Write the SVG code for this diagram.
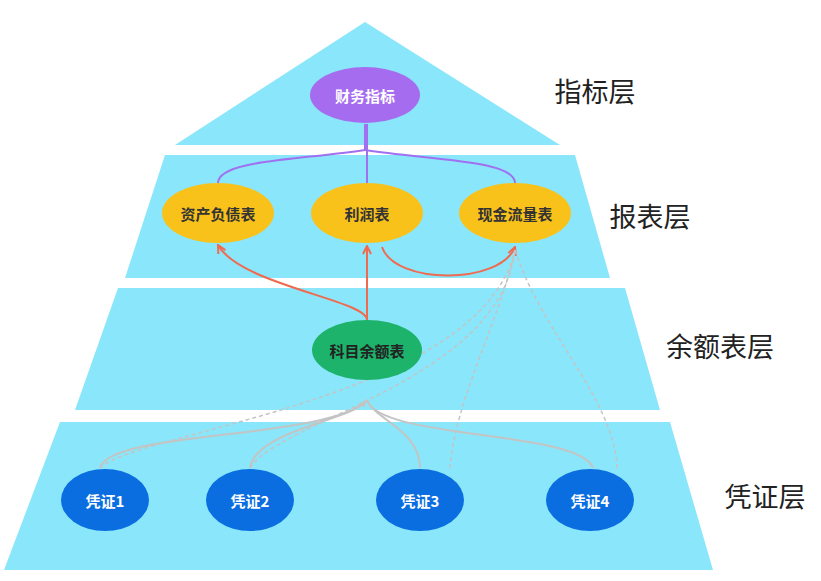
<svg xmlns="http://www.w3.org/2000/svg" width="821" height="581" viewBox="0 0 821 581">
<style>
.band{fill:#8ae6fa}
.t{font-family:"Noto Sans CJK SC",sans-serif;font-weight:bold;font-size:15px;text-anchor:middle;dominant-baseline:central}
.lbl{font-family:"Noto Sans CJK SC",sans-serif;font-size:27px;fill:#222;text-anchor:middle;dominant-baseline:central}
.p{fill:none;stroke:#a070f0;stroke-width:2}
.r{fill:none;stroke:#f06a50;stroke-width:2}
.g{fill:none;stroke:#c4c4c4;stroke-width:2}
.d{fill:none;stroke:#c4c4c4;stroke-width:1.5;stroke-dasharray:4 3}
</style>
<defs>
<marker id="ar" viewBox="0 0 10 10" refX="9" refY="5" markerWidth="5" markerHeight="5" orient="auto"><path d="M1,1 L9,5 L1,9" fill="none" stroke="#f06a50" stroke-width="2"/></marker>
<marker id="ag" viewBox="0 0 10 10" refX="9" refY="5" markerWidth="4" markerHeight="4" orient="auto"><path d="M0,1 L9,5 L0,9z" fill="#c4c4c4"/></marker>
</defs>
<rect width="821" height="581" fill="#fff"/>
<g id="bands">
<polygon class="band" points="365,22 175,145 560,145"/>
<polygon class="band" points="165,155 575,155 610,278 125,278"/>
<polygon class="band" points="118,288 625,288 660,410 75,410"/>
<polygon class="band" points="60,422 670,422 713,570 4,570"/>
</g>
<g id="connectors">
<path class="p" d="M218,183 C218,160 300,160 365,150 L365,124"/>
<path class="p" d="M367,183 L367,124"/>
<path class="p" d="M515,183 C515,160 430,160 365,150"/>
<path class="r" d="M367,320 C367,300 240,285 218,245" marker-end="url(#ar)"/>
<path class="r" d="M367,320 L367,246" marker-end="url(#ar)"/>
<path class="r" d="M382,247 C395,285 500,285 515,247" marker-end="url(#ar)"/>
<path class="g" d="M100,468 C110,430 330,440 367,400" marker-end="url(#ag)"/>
<path class="g" d="M250,468 C255,430 355,420 367,400"/>
<path class="g" d="M420,468 C420,430 375,420 367,400"/>
<path class="g" d="M593,468 C580,430 380,440 367,400"/>
<path class="d" d="M100,468 C140,430 480,400 515,250"/>
<path class="d" d="M250,468 C280,420 500,380 515,250"/>
<path class="d" d="M450,468 C455,400 500,320 515,250"/>
<path class="d" d="M617,468 C615,400 540,330 515,250"/>
</g>
<g id="n0"><ellipse cx="365" cy="95" rx="55" ry="28" fill="#a66cf0"/><text class="t" x="365" y="95" fill="#fff" font-size="13">财务指标</text></g>
<g id="n1"><ellipse cx="218" cy="213" rx="56" ry="30" fill="#f9c21a"/><text class="t" x="218" y="213" fill="#333">资产负债表</text></g>
<g id="n2"><ellipse cx="367" cy="213" rx="56" ry="30" fill="#f9c21a"/><text class="t" x="367" y="213" fill="#333">利润表</text></g>
<g id="n3"><ellipse cx="515" cy="213" rx="56" ry="30" fill="#f9c21a"/><text class="t" x="515" y="213" fill="#333">现金流量表</text></g>
<g id="n4"><ellipse cx="367" cy="350" rx="55" ry="30" fill="#1db36a"/><text class="t" x="367" y="350" fill="#222">科目余额表</text></g>
<g id="n5"><ellipse cx="105" cy="500" rx="44" ry="31" fill="#0a6ee0"/><text class="t" x="105" y="500" fill="#fff">凭证1</text></g>
<g id="n6"><ellipse cx="250" cy="500" rx="44" ry="31" fill="#0a6ee0"/><text class="t" x="250" y="500" fill="#fff">凭证2</text></g>
<g id="n7"><ellipse cx="420" cy="500" rx="44" ry="31" fill="#0a6ee0"/><text class="t" x="420" y="500" fill="#fff">凭证3</text></g>
<g id="n8"><ellipse cx="590" cy="500" rx="44" ry="31" fill="#0a6ee0"/><text class="t" x="590" y="500" fill="#fff">凭证4</text></g>
<g id="labels">
<text class="lbl" x="595" y="90">指标层</text>
<text class="lbl" x="650" y="215">报表层</text>
<text class="lbl" x="720" y="345">余额表层</text>
<text class="lbl" x="765" y="495">凭证层</text>
</g>
</svg>
